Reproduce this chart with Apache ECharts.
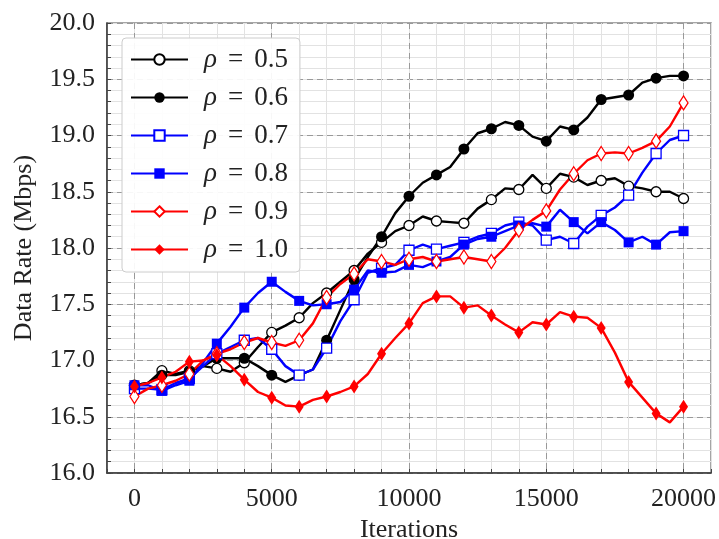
<!DOCTYPE html>
<html>
<head>
<meta charset="utf-8">
<script src="https://cdn.jsdelivr.net/npm/echarts@6/dist/echarts.min.js"></script>
<style>
  html, body { margin: 0; padding: 0; background: #fff; }
  #chart { width: 719px; height: 539px; }
</style>
</head>
<body>
<div id="chart"></div>
<script>
  // iterations, step 500 (markers every 1000)
  var iters = [];
  for (var k = 0; k <= 40; k++) iters.push(k * 500);

  var rhoNames = ['0.5', '0.6', '0.7', '0.8', '0.9', '1.0'];
  var xTicks = [0, 5000, 10000, 15000, 20000];

  // values
  var rho05 = [16.78, 16.80, 16.91, 16.88, 16.91, 16.95, 16.93, 16.90, 16.98, 17.12,
    17.25, 17.31, 17.38, 17.51, 17.60, 17.70, 17.80, 17.95, 18.05, 18.15,
    18.20, 18.28, 18.24, 18.23, 18.22, 18.35, 18.43, 18.53, 18.52, 18.65,
    18.53, 18.66, 18.63, 18.56, 18.60, 18.62, 18.55, 18.53, 18.50, 18.50, 18.44];
  var rho06 = [16.78, 16.80, 16.87, 16.87, 16.90, 16.95, 17.02, 17.02, 17.02, 16.95,
    16.87, 16.81, 16.87, 16.92, 17.18, 17.45, 17.72, 17.92, 18.10, 18.31,
    18.46, 18.58, 18.65, 18.72, 18.88, 19.02, 19.06, 19.12, 19.09, 18.99,
    18.95, 19.08, 19.05, 19.16, 19.32, 19.34, 19.36, 19.47, 19.51, 19.53, 19.53];
  var rho07 = [16.75, 16.75, 16.74, 16.80, 16.84, 16.95, 17.06, 17.12, 17.18, 17.20,
    17.10, 16.95, 16.87, 16.92, 17.11, 17.35, 17.54, 17.78, 17.82, 17.85,
    17.98, 18.03, 17.99, 18.02, 18.05, 18.10, 18.13, 18.20, 18.23, 18.20,
    18.07, 18.10, 18.04, 18.19, 18.29, 18.36, 18.47, 18.67, 18.84, 18.96, 19.00];
  var rho08 = [16.78, 16.78, 16.73, 16.78, 16.82, 16.98, 17.15, 17.30, 17.47, 17.60,
    17.70, 17.61, 17.53, 17.49, 17.50, 17.52, 17.63, 17.80, 17.78, 17.79,
    17.85, 17.83, 17.88, 17.92, 18.03, 18.08, 18.10, 18.15, 18.20, 18.22,
    18.19, 18.34, 18.23, 18.13, 18.23, 18.16, 18.05, 18.10, 18.03, 18.14, 18.15];
  var rho09 = [16.68, 16.75, 16.78, 16.82, 16.88, 17.00, 17.06, 17.10, 17.16, 17.20,
    17.16, 17.13, 17.18, 17.33, 17.56, 17.68, 17.77, 17.90, 17.88, 17.85,
    17.90, 17.92, 17.88, 17.90, 17.92, 17.90, 17.88, 18.00, 18.16, 18.25,
    18.33, 18.52, 18.66, 18.78, 18.84, 18.85, 18.84, 18.89, 18.95, 19.08, 19.29];
  var rho10 = [16.77, 16.80, 16.85, 16.90, 16.99, 17.00, 17.05, 16.95, 16.83, 16.72,
    16.67, 16.60, 16.59, 16.65, 16.68, 16.72, 16.77, 16.88, 17.06, 17.20,
    17.33, 17.51, 17.57, 17.57, 17.47, 17.49, 17.40, 17.32, 17.25, 17.34,
    17.32, 17.43, 17.39, 17.38, 17.29, 17.07, 16.81, 16.67, 16.53, 16.45, 16.59];

  var FONT = 'Liberation Serif';

  function makeData(vals) {
    return vals.map(function (v, i) {
      var item = { value: [iters[i], v] };
      if (iters[i] % 1000 !== 0) item.symbol = 'none';
      return item;
    });
  }

  function makeSeries(name, vals, color, symbol, size, hollow) {
    return {
      name: name,
      type: 'line',
      data: makeData(vals),
      symbol: symbol,
      symbolSize: size,
      showAllSymbol: true,
      lineStyle: { color: color, width: 2.4 },
      itemStyle: {
        color: hollow ? '#fff' : color,
        borderColor: color,
        borderWidth: hollow ? 1.3 : 0
      },
      emphasis: { disabled: true },
      z: 3
    };
  }

  var series = [
    makeSeries(rhoNames[0], rho05, '#000', 'circle', 10, true),
    makeSeries(rhoNames[1], rho06, '#000', 'circle', 11, false),
    makeSeries(rhoNames[2], rho07, '#0000ff', 'rect', 10, true),
    makeSeries(rhoNames[3], rho08, '#0000ff', 'rect', 10, false),
    makeSeries(rhoNames[4], rho09, '#ff0000', 'diamond', [9, 14], true),
    makeSeries(rhoNames[5], rho10, '#ff0000', 'diamond', [9, 14], false)
  ];

  var chart = echarts.init(document.getElementById('chart'));
  chart.setOption({
    animation: false,
    grid: {
      left: 107, right: 8, top: 23, bottom: 66,
      outerBoundsMode: 'none',
      show: true, borderColor: '#888', borderWidth: 1.5
    },
    legend: {
      orient: 'vertical',
      left: 122, top: 38,
      padding: [8, 12, 9, 8],
      itemWidth: 57, itemHeight: 13, itemGap: 11,
      backgroundColor: 'rgba(255,255,255,0.92)',
      borderColor: '#ccc', borderWidth: 1, borderRadius: 4,
      selectedMode: false,
      formatter: function (n) { return '{i|ρ}{e|=}{t|' + n + '}'; },
      textStyle: {
        fontFamily: FONT, fontSize: 26, lineHeight: 26, color: '#222',
        rich: {
          i: { fontFamily: FONT, fontSize: 27, lineHeight: 26, fontStyle: 'italic', padding: [0, 0, 0, 11] },
          e: { fontFamily: FONT, fontSize: 27, lineHeight: 26, padding: [0, 11, 0, 11] },
          t: { fontFamily: FONT, fontSize: 27, lineHeight: 26 }
        }
      },
      data: rhoNames
    },
    xAxis: [{
      type: 'value', min: -1000, max: 21000, interval: 1000,
      name: 'Iterations', nameLocation: 'middle', nameGap: 38,
      nameTextStyle: { fontFamily: FONT, fontSize: 26, color: '#222' },
      axisLine: { show: true, onZero: false, lineStyle: { color: '#333', width: 1.5 } },
      axisTick: { show: true, inside: true, length: 4, lineStyle: { color: '#444' } },
      axisLabel: {
        margin: 13, fontFamily: FONT, fontSize: 26, color: '#222',
        formatter: function (v) { return v % 5000 === 0 && v >= 0 ? String(v) : ''; }
      },
      splitLine: { show: true, lineStyle: { color: '#e2e2e2', width: 1 } }
    }, {
      type: 'value', min: -1000, max: 21000, position: 'top',
      axisLine: { show: false }, axisLabel: { show: false },
      axisTick: { show: false, customValues: xTicks },
      splitLine: { show: true, lineStyle: { color: '#999', type: [6, 4], width: 1 } }
    }],
    yAxis: [{
      type: 'value', min: 16, max: 20, interval: 0.1,
      name: 'Data Rate (Mbps)', nameLocation: 'middle', nameGap: 70,
      nameTextStyle: { fontFamily: FONT, fontSize: 26, color: '#222' },
      axisLine: { show: true, onZero: false, lineStyle: { color: '#333', width: 1.5 } },
      axisTick: { show: true, inside: true, length: 4, lineStyle: { color: '#444' } },
      axisLabel: {
        margin: 12, fontFamily: FONT, fontSize: 26, color: '#222',
        formatter: function (v) {
          return Math.round(v * 10) % 5 === 0 ? v.toFixed(1) : '';
        }
      },
      splitLine: { show: true, lineStyle: { color: '#e2e2e2', width: 1 } }
    }, {
      type: 'value', min: 16, max: 20, interval: 0.5, position: 'right',
      axisLine: { show: false }, axisLabel: { show: false }, axisTick: { show: false },
      splitLine: { show: true, lineStyle: { color: '#999', type: [6, 4], width: 1 } }
    }],
    series: series
  });
</script>
</body>
</html>
